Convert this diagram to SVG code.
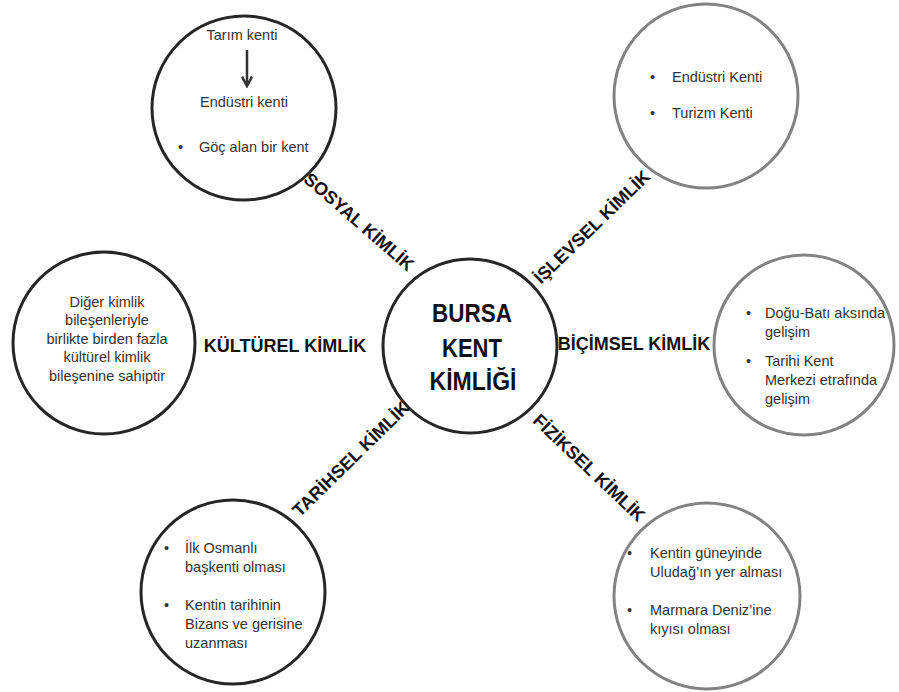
<svg xmlns="http://www.w3.org/2000/svg" width="899" height="692" viewBox="0 0 899 692">
<style>
.dark{fill:#fff;stroke:#262626;stroke-width:3}
.gray{fill:#fff;stroke:#828282;stroke-width:3}
.t{font-family:"Liberation Sans",Arial,sans-serif;font-size:14.5px;fill:#333}
.c{text-anchor:middle}
.lbl{font-family:"Liberation Sans",Arial,sans-serif;font-size:18px;font-weight:bold;fill:#111;text-anchor:middle}
.ctr{font-family:"Liberation Sans",Arial,sans-serif;font-size:26px;font-weight:bold;fill:#111;text-anchor:middle}
</style>
<defs>
<marker id="ah" viewBox="0 0 10 10" refX="8.5" refY="5" markerWidth="5" markerHeight="5" orient="auto">
<path d="M1,1 L8.5,5 L1,9" fill="none" stroke="#333" stroke-width="2"/>
</marker>
</defs>
<rect width="899" height="692" fill="#fff"/>

<g id="center">
<circle class="dark" cx="470" cy="346" r="87"/>
<text class="ctr" x="472" y="322" textLength="80" lengthAdjust="spacingAndGlyphs">BURSA</text>
<text class="ctr" x="472" y="357" textLength="60" lengthAdjust="spacingAndGlyphs">KENT</text>
<text class="ctr" x="473" y="390" textLength="87" lengthAdjust="spacingAndGlyphs">KİMLİĞİ</text>
</g>

<g id="sosyal">
<circle class="dark" cx="244" cy="108" r="92"/>
<text class="t c" x="242" y="40">Tarım kenti</text>
<text class="t c" x="244" y="107">Endüstri kenti</text>
<text class="t" x="178" y="152">•</text>
<text class="t" x="199" y="152">Göç alan bir kent</text>
</g>

<g id="islevsel">
<circle class="gray" cx="706" cy="96" r="92"/>
<text class="t" x="650" y="82">•</text>
<text class="t" x="672" y="82">Endüstri Kenti</text>
<text class="t" x="650" y="118">•</text>
<text class="t" x="672" y="118">Turizm Kenti</text>
</g>

<g id="kulturel">
<circle class="dark" cx="104" cy="343" r="91"/>
<text class="t c" x="107" y="307">Diğer kimlik</text>
<text class="t c" x="107" y="325">bileşenleriyle</text>
<text class="t c" x="107" y="344">birlikte birden fazla</text>
<text class="t c" x="107" y="362">kültürel kimlik</text>
<text class="t c" x="107" y="381">bileşenine sahiptir</text>
</g>

<g id="bicimsel">
<circle class="gray" cx="804" cy="345" r="90"/>
<text class="t" x="746" y="318">•</text>
<text class="t" x="765" y="318">Doğu-Batı aksında</text>
<text class="t" x="765" y="337">gelişim</text>
<text class="t" x="746" y="366">•</text>
<text class="t" x="765" y="366">Tarihi Kent</text>
<text class="t" x="765" y="385">Merkezi etrafında</text>
<text class="t" x="765" y="404">gelişim</text>
</g>

<g id="tarihsel">
<circle class="dark" cx="233" cy="592" r="92"/>
<text class="t" x="164" y="553">•</text>
<text class="t" x="185" y="553">İlk Osmanlı</text>
<text class="t" x="185" y="572">başkenti olması</text>
<text class="t" x="164" y="610">•</text>
<text class="t" x="185" y="610">Kentin tarihinin</text>
<text class="t" x="185" y="629">Bizans ve gerisine</text>
<text class="t" x="185" y="648">uzanması</text>
</g>

<g id="fiziksel">
<circle class="gray" cx="707" cy="596" r="93"/>
<text class="t" x="627" y="558">•</text>
<text class="t" x="650" y="558">Kentin güneyinde</text>
<text class="t" x="650" y="577">Uludağ’ın yer alması</text>
<text class="t" x="627" y="615">•</text>
<text class="t" x="650" y="615">Marmara Deniz’ine</text>
<text class="t" x="650" y="634">kıyısı olması</text>
</g>

<g id="labels">
<text class="lbl" x="359" y="228" transform="rotate(41 359 222)">SOSYAL KİMLİK</text>
<text class="lbl" x="592" y="233" transform="rotate(-44 592 227)">İŞLEVSEL KİMLİK</text>
<text class="lbl" x="285" y="352">KÜLTÜREL KİMLİK</text>
<text class="lbl" x="634" y="350">BİÇİMSEL KİMLİK</text>
<text class="lbl" x="351" y="465" transform="rotate(-44.5 351 459)">TARİHSEL KİMLİK</text>
<text class="lbl" x="589" y="474" transform="rotate(43.5 589 468)">FİZİKSEL KİMLİK</text>
</g>

<g id="connectors">
<line x1="247" y1="50" x2="247" y2="86" stroke="#333" stroke-width="2.5" marker-end="url(#ah)"/>
</g>
</svg>
